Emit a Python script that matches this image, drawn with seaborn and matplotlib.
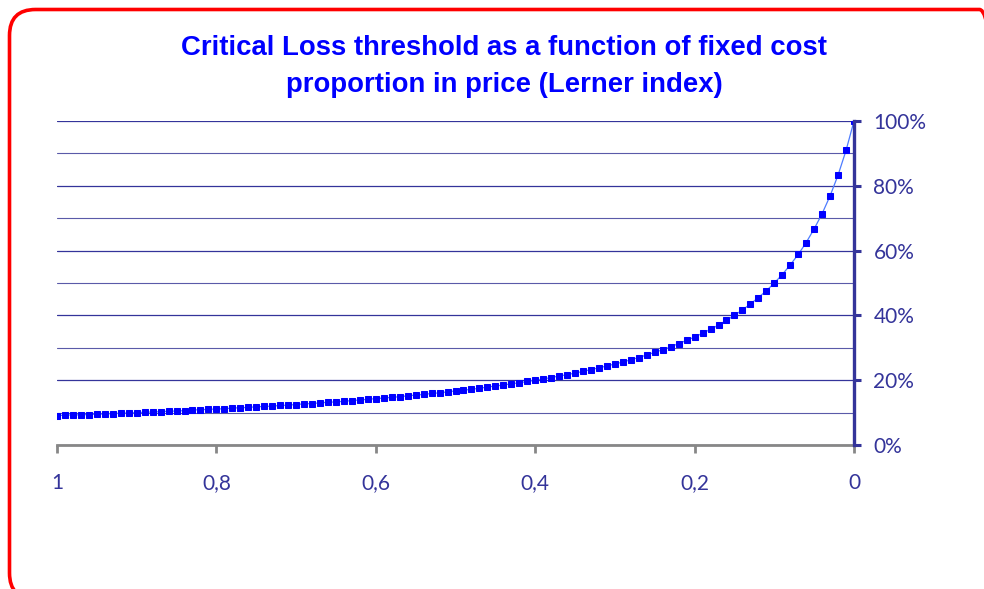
import matplotlib
matplotlib.use("Agg")
import matplotlib.pyplot as plt
import seaborn as sns
import pandas as pd
from matplotlib.patches import FancyBboxPatch
from matplotlib.transforms import IdentityTransform
from matplotlib.ticker import FuncFormatter, MultipleLocator

# Lerner index (fixed cost share of price), read left to right: 1 -> 0
lerner = [1.00, 0.99, 0.98, 0.97, 0.96, 0.95, 0.94, 0.93, 0.92, 0.91,
          0.90, 0.89, 0.88, 0.87, 0.86, 0.85, 0.84, 0.83, 0.82, 0.81,
          0.80, 0.79, 0.78, 0.77, 0.76, 0.75, 0.74, 0.73, 0.72, 0.71,
          0.70, 0.69, 0.68, 0.67, 0.66, 0.65, 0.64, 0.63, 0.62, 0.61,
          0.60, 0.59, 0.58, 0.57, 0.56, 0.55, 0.54, 0.53, 0.52, 0.51,
          0.50, 0.49, 0.48, 0.47, 0.46, 0.45, 0.44, 0.43, 0.42, 0.41,
          0.40, 0.39, 0.38, 0.37, 0.36, 0.35, 0.34, 0.33, 0.32, 0.31,
          0.30, 0.29, 0.28, 0.27, 0.26, 0.25, 0.24, 0.23, 0.22, 0.21,
          0.20, 0.19, 0.18, 0.17, 0.16, 0.15, 0.14, 0.13, 0.12, 0.11,
          0.10, 0.09, 0.08, 0.07, 0.06, 0.05, 0.04, 0.03, 0.02, 0.01,
          0.00]

# critical loss threshold
critical_loss = [0.091, 0.092, 0.093, 0.093, 0.094, 0.095, 0.096, 0.097, 0.098, 0.099,
                 0.100, 0.101, 0.102, 0.103, 0.104, 0.105, 0.106, 0.108, 0.109, 0.110,
                 0.111, 0.112, 0.114, 0.115, 0.116, 0.118, 0.119, 0.120, 0.122, 0.123,
                 0.125, 0.127, 0.128, 0.130, 0.132, 0.133, 0.135, 0.137, 0.139, 0.141,
                 0.143, 0.145, 0.147, 0.149, 0.152, 0.154, 0.156, 0.159, 0.161, 0.164,
                 0.167, 0.169, 0.172, 0.175, 0.179, 0.182, 0.185, 0.189, 0.192, 0.196,
                 0.200, 0.204, 0.208, 0.213, 0.217, 0.222, 0.227, 0.233, 0.238, 0.244,
                 0.250, 0.256, 0.263, 0.270, 0.278, 0.286, 0.294, 0.303, 0.313, 0.323,
                 0.333, 0.345, 0.357, 0.370, 0.385, 0.400, 0.417, 0.435, 0.455, 0.476,
                 0.500, 0.526, 0.556, 0.588, 0.625, 0.667, 0.714, 0.769, 0.833, 0.909,
                 1.000]

x_ticks = [1.0, 0.8, 0.6, 0.4, 0.2, 0.0]
y_ticks = [0.0, 0.2, 0.4, 0.6, 0.8, 1.0]

TITLE_LINES = ["Critical Loss threshold as a function of fixed cost",
               "proportion in price (Lerner index)"]
NAVY = "#34349a"
GREY = "#878787"

sns.set_style("white")

df = pd.DataFrame({"lerner": lerner, "critical_loss": critical_loss})

fig = plt.figure(figsize=(9.84, 5.89), dpi=100)
ax = fig.add_axes([57 / 984, 1 - 445 / 589, (854 - 57) / 984, (445 - 121) / 589])

# rounded red frame, in pixels (origin bottom-left); right and bottom run off the canvas
frame = FancyBboxPatch((9.5, -10), 996, 589.5,
                       boxstyle="round,pad=0,rounding_size=26",
                       transform=IdentityTransform(), facecolor="none",
                       edgecolor="#ff0000", linewidth=2.6, zorder=0)
fig.patches.append(frame)

sns.lineplot(data=df, x="lerner", y="critical_loss", ax=ax,
             color="#4d7cff", linewidth=0.9, marker="s", markersize=5.0,
             markerfacecolor="#0000ff", markeredgecolor="#0000ff", zorder=3)

ax.set_xlim(1.0, 0.0)
ax.set_ylim(0.0, 1.0)
ax.set_xlabel("")
ax.set_ylabel("")

ax.yaxis.tick_right()
ax.set_yticks(y_ticks)
ax.yaxis.set_minor_locator(MultipleLocator(0.1))
ax.set_xticks(x_ticks)

ax.xaxis.set_major_formatter(FuncFormatter(lambda v, p: f"{v:g}".replace(".", ",")))
ax.yaxis.set_major_formatter(FuncFormatter(lambda v, p: f"{v * 100:.0f}%"))

ax.grid(True, axis="y", which="major", color=NAVY, linewidth=0.9)
ax.grid(True, axis="y", which="minor", color="#5a5aa8", linewidth=0.8)
ax.grid(False, axis="x")

for side in ["left", "top"]:
    ax.spines[side].set_visible(False)
ax.spines["right"].set_color(NAVY)
ax.spines["right"].set_linewidth(2.4)
ax.spines["bottom"].set_color(GREY)
ax.spines["bottom"].set_linewidth(2.0)
ax.spines["right"].set_zorder(4)

ax.tick_params(axis="y", which="major", right=True, direction="out", length=5,
               width=2.2, color=NAVY, labelcolor=NAVY, pad=9,
               labelsize=15, labelfontfamily="Lato")
ax.tick_params(axis="y", which="minor", right=False, length=0)
ax.tick_params(axis="x", bottom=True, direction="out", length=6, width=2.0,
               color=GREY, labelcolor=NAVY, pad=14,
               labelsize=15, labelfontfamily="Lato")
for lbl in ax.get_yticklabels():
    lbl.set_va("center_baseline")

for line, ypix in zip(TITLE_LINES, [48, 85]):
    fig.text(504 / 984, 1 - ypix / 589, line, ha="center", va="center",
             fontsize=19.8, fontweight="bold", color="#0000ff",
             family=["Liberation Sans", "DejaVu Sans"])

fig.savefig("out.png", dpi=100)
